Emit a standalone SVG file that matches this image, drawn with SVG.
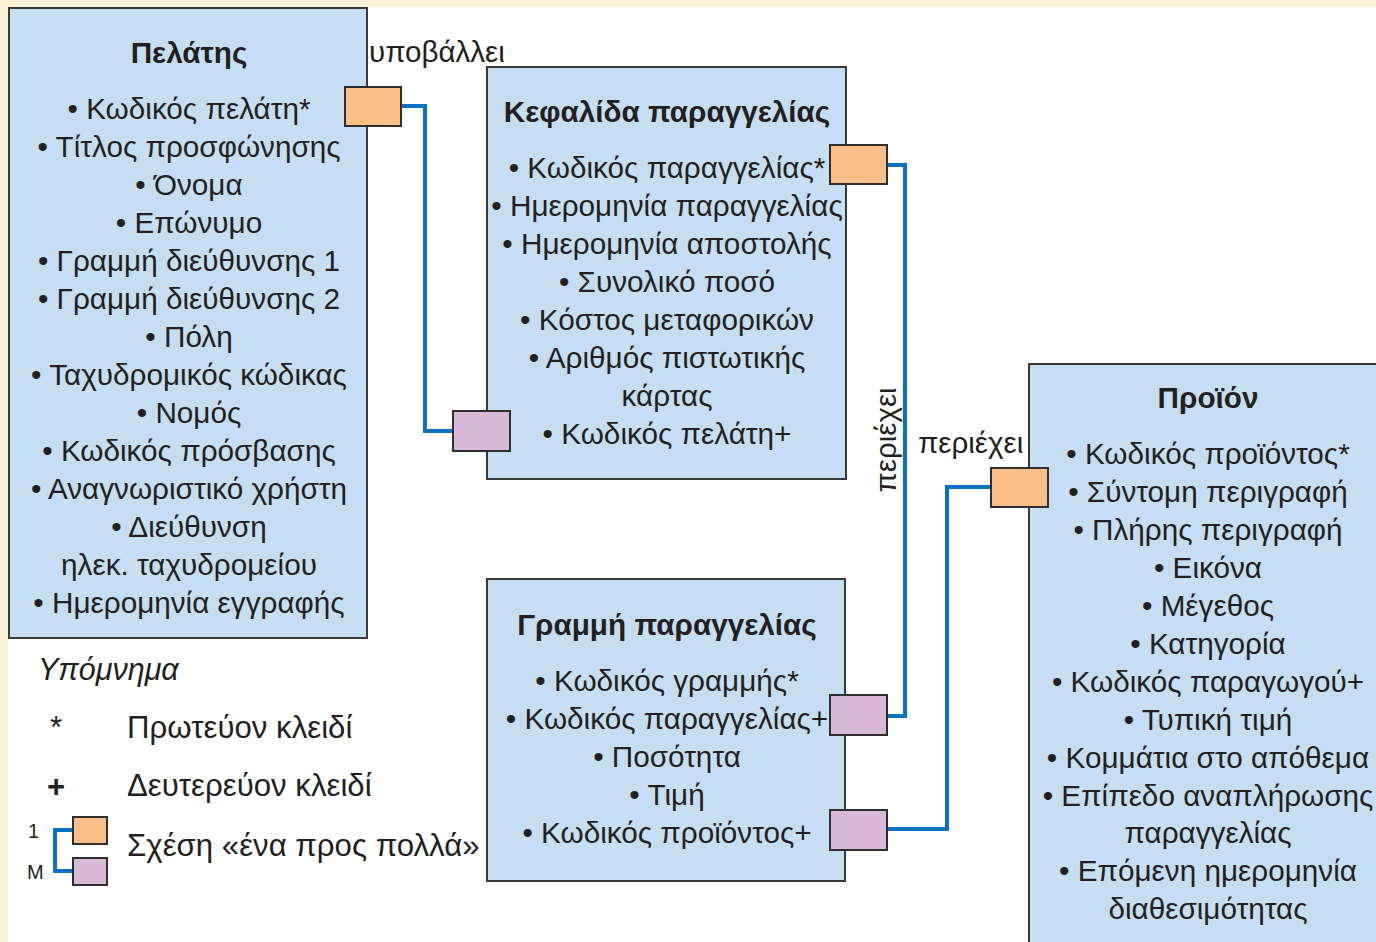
<svg xmlns="http://www.w3.org/2000/svg" width="1376" height="942" viewBox="0 0 1376 942">
<style>
.ent{fill:#C6DEF3;stroke:#3a3a3a;stroke-width:2}
.one{fill:#FBBE86;stroke:#2e2e2e;stroke-width:2}
.many{fill:#DAB8D8;stroke:#2e2e2e;stroke-width:2}
.ln{fill:none;stroke:#0A72C2;stroke-width:4}
text{font-family:"Liberation Sans",Arial,sans-serif;fill:#231F20;font-size:29.7px}
.t{font-weight:bold;text-anchor:middle}
.c{text-anchor:middle}
.lg{font-size:31.2px}
</style>
<rect x="0" y="0" width="1376" height="942" fill="#FBF1D5"/>
<rect x="8" y="7" width="1368" height="935" fill="#FFFFFF"/>
<g id="connectors">
<polyline class="ln" points="401,106 425,106 425,431 453,431"/>
<polyline class="ln" points="887,165 905,165 905,716 887,716"/>
<polyline class="ln" points="887,829 947,829 947,487 991,487"/>
<text x="369" y="62" style="font-size:29.5px">υποβάλλει</text>
<text x="918" y="453" style="font-size:29.5px">περιέχει</text>
<text transform="translate(896,440) rotate(-90)" class="c" style="font-size:29.5px">περιέχει</text>
</g>
<g id="pelatis">
<rect class="ent" x="9" y="8" width="358" height="630"/>
<text class="t" x="189" y="63">Πελάτης</text>
<text class="c" x="189" y="119">• Κωδικός πελάτη*</text>
<text class="c" x="189" y="157">• Τίτλος προσφώνησης</text>
<text class="c" x="189" y="195">• Όνομα</text>
<text class="c" x="189" y="233">• Επώνυμο</text>
<text class="c" x="189" y="271">• Γραμμή διεύθυνσης 1</text>
<text class="c" x="189" y="309">• Γραμμή διεύθυνσης 2</text>
<text class="c" x="189" y="347">• Πόλη</text>
<text class="c" x="189" y="385">• Ταχυδρομικός κώδικας</text>
<text class="c" x="189" y="423">• Νομός</text>
<text class="c" x="189" y="461">• Κωδικός πρόσβασης</text>
<text class="c" x="189" y="499">• Αναγνωριστικό χρήστη</text>
<text class="c" x="189" y="537">• Διεύθυνση</text>
<text class="c" x="189" y="575">ηλεκ. ταχυδρομείου</text>
<text class="c" x="189" y="613">• Ημερομηνία εγγραφής</text>
<rect class="one" x="345" y="87" width="56" height="39"/>
</g>
<g id="kefalida">
<rect class="ent" x="487" y="67" width="359" height="412"/>
<text class="t" x="667" y="122">Κεφαλίδα παραγγελίας</text>
<text class="c" x="667" y="178">• Κωδικός παραγγελίας*</text>
<text class="c" x="667" y="216">• Ημερομηνία παραγγελίας</text>
<text class="c" x="667" y="254">• Ημερομηνία αποστολής</text>
<text class="c" x="667" y="292">• Συνολικό ποσό</text>
<text class="c" x="667" y="330">• Κόστος μεταφορικών</text>
<text class="c" x="667" y="368">• Αριθμός πιστωτικής</text>
<text class="c" x="667" y="406">κάρτας</text>
<text class="c" x="667" y="444">• Κωδικός πελάτη+</text>
<rect class="one" x="830" y="145" width="57" height="39"/>
<rect class="many" x="453" y="411" width="57" height="40"/>
</g>
<g id="grammi">
<rect class="ent" x="487" y="579" width="358" height="302"/>
<text class="t" x="667" y="635">Γραμμή παραγγελίας</text>
<text class="c" x="667" y="691">• Κωδικός γραμμής*</text>
<text class="c" x="667" y="729">• Κωδικός παραγγελίας+</text>
<text class="c" x="667" y="767">• Ποσότητα</text>
<text class="c" x="667" y="805">• Τιμή</text>
<text class="c" x="667" y="843">• Κωδικός προϊόντος+</text>
<rect class="many" x="830" y="695" width="57" height="40"/>
<rect class="many" x="830" y="810" width="57" height="40"/>
</g>
<g id="proion">
<rect class="ent" x="1029" y="364" width="360" height="590"/>
<text class="t" x="1208" y="408">Προϊόν</text>
<text class="c" x="1208" y="464">• Κωδικός προϊόντος*</text>
<text class="c" x="1208" y="502">• Σύντομη περιγραφή</text>
<text class="c" x="1208" y="540">• Πλήρης περιγραφή</text>
<text class="c" x="1208" y="578">• Εικόνα</text>
<text class="c" x="1208" y="616">• Μέγεθος</text>
<text class="c" x="1208" y="654">• Κατηγορία</text>
<text class="c" x="1208" y="692">• Κωδικός παραγωγού+</text>
<text class="c" x="1208" y="730">• Τυπική τιμή</text>
<text class="c" x="1208" y="768">• Κομμάτια στο απόθεμα</text>
<text class="c" x="1208" y="806">• Επίπεδο αναπλήρωσης</text>
<text class="c" x="1208" y="843">παραγγελίας</text>
<text class="c" x="1208" y="881">• Επόμενη ημερομηνία</text>
<text class="c" x="1208" y="919">διαθεσιμότητας</text>
<rect class="one" x="991" y="468" width="57" height="39"/>
</g>
<g id="legend">
<text class="lg" x="38" y="680" style="font-style:italic;font-size:30.5px">Υπόμνημα</text>
<text class="lg" x="50" y="738">*</text>
<text class="lg" x="47" y="797" style="font-weight:bold">+</text>
<text class="lg" x="127" y="738">Πρωτεύον κλειδί</text>
<text class="lg" x="127" y="796">Δευτερεύον κλειδί</text>
<text x="28" y="838" style="font-size:20px">1</text>
<text x="27" y="879" style="font-size:20px">M</text>
<polyline class="ln" points="73,830 55,830 55,871 73,871"/>
<rect class="one" x="73" y="817" width="34" height="27"/>
<rect class="many" x="73" y="858" width="34" height="27"/>
<text class="lg" x="127" y="856">Σχέση «ένα προς πολλά»</text>
</g>
</svg>
